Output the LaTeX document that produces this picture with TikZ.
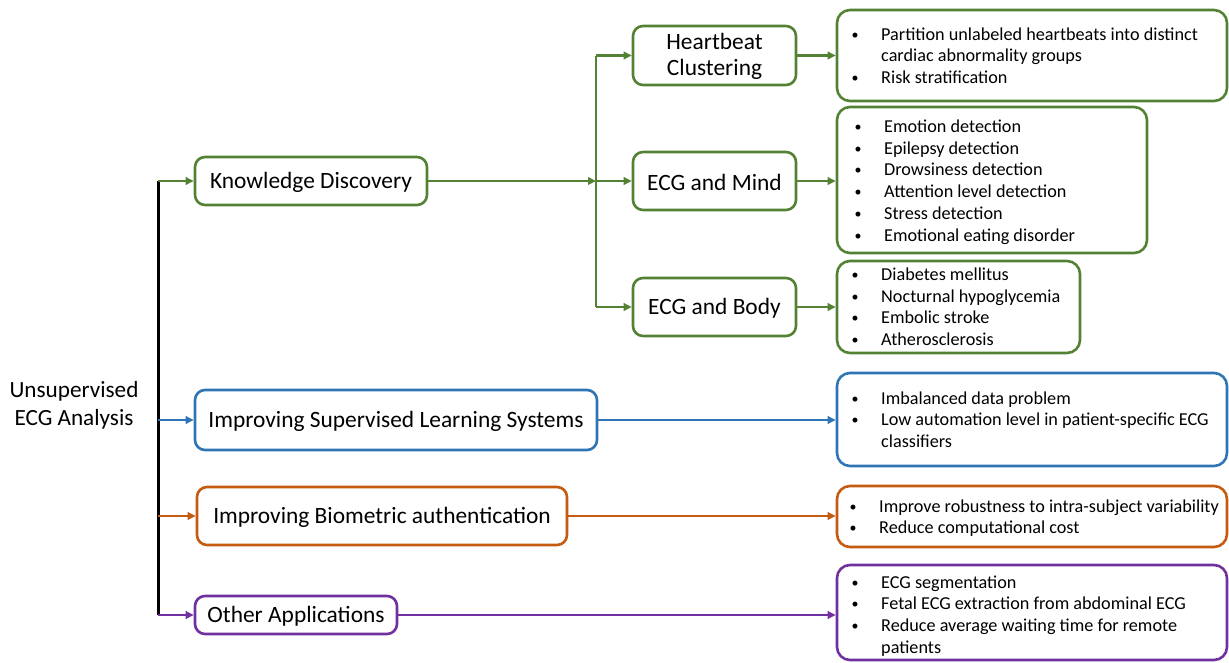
\documentclass[tikz,border=0pt]{standalone}
\usepackage{fontspec}
\setmainfont{Carlito}
\usetikzlibrary{arrows.meta}
\definecolor{kgreen}{HTML}{548235}
\definecolor{kblue}{HTML}{2E75B6}
\definecolor{korange}{HTML}{C55A11}
\definecolor{kpurple}{HTML}{7030A0}
% bullet item and continuation line inside a list
\newcommand\bitem[1]{\makebox[52pt][c]{\raisebox{1pt}{\fontsize{14}{14}\selectfont\textbullet}}#1}
\newcommand\bcont[1]{\hspace*{52pt}#1}
\tikzset{
  box/.style={draw, line width=2.6pt, rounded corners=10pt, inner sep=0pt},
  lbl/.style={inner sep=0pt, align=center, font=\fontsize{23.4}{26}\selectfont},
  listbox/.style={draw, line width=2.6pt, rounded corners=13pt, inner sep=0pt},
  link/.style={line width=2.2pt, -{Triangle[length=8pt,width=7.5pt]}},
  listtext/.style={inner sep=0pt, anchor=base west, font=\fontsize{18.2}{21.7}\selectfont},
}
\begin{document}
\begin{tikzpicture}[x=1pt,y=-1pt]
\useasboundingbox (0,0) rectangle (1229,662);

% root label
\node[align=center, font=\fontsize{23.2}{28}\selectfont] (root) at (74,405) {Unsupervised\\ECG Analysis};

% first level
\node[box, kgreen, minimum width=232pt, minimum height=48pt] (kd) at (311,181) {};
\node[lbl] at ([yshift=-1pt]kd) {Knowledge Discovery};
\node[box, kblue, minimum width=402pt, minimum height=60pt] (isl) at (396,420) {};
\node[lbl] at ([yshift=-1pt]isl) {Improving Supervised Learning Systems};
\node[box, korange, minimum width=370pt, minimum height=58pt] (iba) at (382,516) {};
\node[lbl] at ([yshift=-1pt]iba) {Improving Biometric authentication};
\node[box, kpurple, minimum width=202pt, minimum height=38pt] (oa) at (296,615) {};
\node[lbl] at ([yshift=-1pt]oa) {Other Applications};

% second level
\node[box, kgreen, minimum width=163pt, minimum height=59pt] (hc) at (714.5,55.5) {};
\node[lbl] at ([yshift=-1pt]hc) {Heartbeat\\Clustering};
\node[box, kgreen, minimum width=163pt, minimum height=58pt] (mind) at (714.5,181) {};
\node[lbl] at ([yshift=-1pt]mind) {ECG and Mind};
\node[box, kgreen, minimum width=163pt, minimum height=58pt] (body) at (714.5,307) {};
\node[lbl] at ([yshift=-1pt]body) {ECG and Body};

% list boxes
\node[listbox, kgreen, minimum width=390pt, minimum height=91pt] (lhc) at (1032,55.5) {};
\node[listbox, kgreen, minimum width=310pt, minimum height=146pt] (lmind) at (992,180) {};
\node[listbox, kgreen, minimum width=243pt, minimum height=92pt] (lbody) at (958.5,307) {};
\node[listbox, kblue, minimum width=390pt, minimum height=93pt] (lisl) at (1032,419.5) {};
\node[listbox, korange, minimum width=390pt, minimum height=61pt] (liba) at (1032,516.5) {};
\node[listbox, kpurple, minimum width=390pt, minimum height=95pt] (loa) at (1032,612.5) {};

% list texts
\node[listtext] at (829,40) {\begin{tabular}[t]{@{}l@{}}
\bitem{Partition unlabeled heartbeats into distinct}\\
\bcont{cardiac abnormality groups}\\
\bitem{Risk stratification}\end{tabular}};
\node[listtext] at (832,132.5) {\begin{tabular}[t]{@{}l@{}}
\bitem{Emotion detection}\\
\bitem{Epilepsy detection}\\
\bitem{Drowsiness detection}\\
\bitem{Attention level detection}\\
\bitem{Stress detection}\\
\bitem{Emotional eating disorder}\end{tabular}};
\node[listtext] at (829,280.5) {\begin{tabular}[t]{@{}l@{}}
\bitem{Diabetes mellitus}\\
\bitem{Nocturnal hypoglycemia}\\
\bitem{Embolic stroke}\\
\bitem{Atherosclerosis}\end{tabular}};
\node[listtext] at (829,404) {\begin{tabular}[t]{@{}l@{}}
\bitem{Imbalanced data problem}\\
\bitem{Low automation level in patient-specific ECG}\\
\bcont{classifiers}\end{tabular}};
\node[listtext] at (827,512) {\begin{tabular}[t]{@{}l@{}}
\bitem{Improve robustness to intra-subject variability}\\
\bitem{Reduce computational cost}\end{tabular}};
\node[listtext] at (829,588) {\begin{tabular}[t]{@{}l@{}}
\bitem{ECG segmentation}\\
\bitem{Fetal ECG extraction from abdominal ECG}\\
\bitem{Reduce average waiting time for remote}\\
\bcont{patients}\end{tabular}};

% trunk from the root
\coordinate (tk) at (158,181);
\coordinate (tb) at (158,615);
\draw[line width=3pt] (tk) -- (tb);
\draw[link, kgreen] (tk) -- (kd.west);
\draw[link, kblue] (isl.west -| tk) -- (isl.west);
\draw[link, korange] (iba.west -| tk) -- (iba.west);
\draw[link, kpurple] (tb) -- (oa.west);

% knowledge discovery branches
\coordinate (gx) at (596,181);
\draw[link, kgreen] (kd.east) -- (gx);
\draw[line width=2.2pt, kgreen] (hc.west -| gx) -- (body.west -| gx);
\draw[link, kgreen] (hc.west -| gx) -- (hc.west);
\draw[link, kgreen] (gx) -- (mind.west);
\draw[link, kgreen] (body.west -| gx) -- (body.west);

% to the lists
\draw[link, kgreen] (hc.east) -- (hc.east -| lhc.west);
\draw[link, kgreen] (mind.east) -- (mind.east -| lmind.west);
\draw[link, kgreen] (body.east) -- (body.east -| lbody.west);
\draw[link, kblue] (isl.east) -- (isl.east -| lisl.west);
\draw[link, korange] (iba.east) -- (iba.east -| liba.west);
\draw[link, kpurple] (oa.east) -- (oa.east -| loa.west);
\end{tikzpicture}
\end{document}
